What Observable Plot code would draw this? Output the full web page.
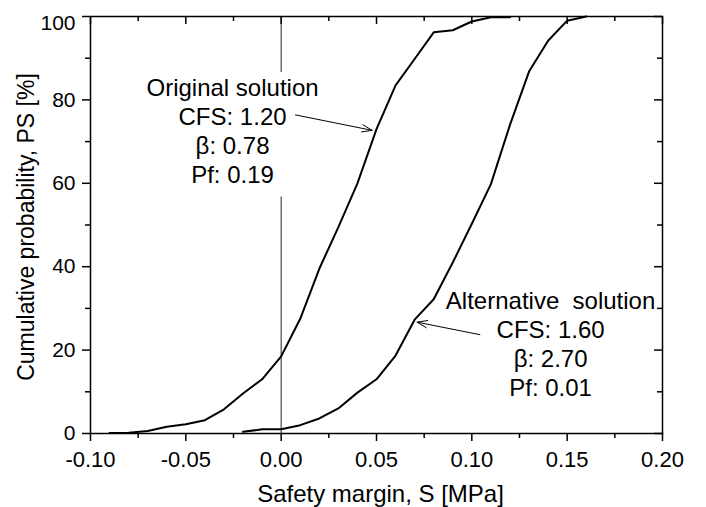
<!DOCTYPE html>
<html><head><meta charset="utf-8">
<script src="https://cdn.jsdelivr.net/npm/d3@7"></script>
<script src="https://cdn.jsdelivr.net/npm/@observablehq/plot@0.6"></script>
<style>body{margin:0;background:#fff} svg{display:block}</style>
</head><body><div id="chart"></div>
<script>
// ---- data ----
const originalS = [-0.09,-0.08,-0.07,-0.06,-0.05,-0.04,-0.03,-0.02,-0.01,0.00,0.01,0.02,0.03,0.04,0.05,0.06,0.07,0.08,0.09,0.10,0.11,0.12];
const originalP = [0.1,0.2,0.6,1.6,2.2,3.2,5.8,9.6,13.0,18.5,27.5,39.5,49.5,60.0,73.0,83.5,89.8,96.2,96.7,98.8,99.8,99.8];
const alternativeS = [-0.02,-0.01,0.00,0.01,0.02,0.03,0.04,0.05,0.06,0.07,0.08,0.09,0.10,0.11,0.12,0.13,0.14,0.15,0.16];
const alternativeP = [0.4,1.0,1.0,2.0,3.6,6.0,9.8,13.0,18.7,27.3,32.2,41.0,50.3,59.8,74.0,86.8,94.2,99.0,100.0];
const xMajorTicks = [-0.10,-0.05,0.00,0.05,0.10,0.15,0.20];
const xMinorTicks = [-0.075,-0.025,0.025,0.075,0.125,0.175];
const yMajorTicks = [0,20,40,60,80,100];
const yMinorTicks = [10,30,50,70,90];
const xLabel = "Safety margin, S [MPa]";
const yLabel = "Cumulative probability, PS [%]";
const originalNote = ["Original solution","CFS: 1.20","\u03b2: 0.78","Pf: 0.19"];
const alternativeNote = ["Alternative\u00a0 solution","CFS: 1.60","\u03b2: 2.70","Pf: 0.01"];

// ---- layout (annotation anchors & arrows in data units) ----
const noteLayout = [
  {text: originalNote.join("\n"), x: -0.0255, y: 60.0, lh: 1.217},
  {text: alternativeNote.join("\n"), x: 0.1413, y: 9.1, lh: 1.20}
];
const arrowLayout = [
  {x1: 0.0075, y1: 76.4, x2: 0.0477, y2: 72.7},
  {x1: 0.1042, y1: 23.7, x2: 0.0713, y2: 26.7}
];
const zeroLineSegments = [{y1: 0, y2: 56.7}, {y1: 86.6, y2: 100}];

const original = originalS.map((s, i) => ({s, p: originalP[i]}));
const alternative = alternativeS.map((s, i) => ({s, p: alternativeP[i]}));

const W = 706, H = 507, mL = 90, mR = 44, mT = 16, mB = 74;
const fw = W - mL - mR, fh = H - mT - mB;
const font = "'Liberation Sans', Arial, sans-serif";
const blank = () => "";

const chart = Plot.plot({
  width: W, height: H,
  marginLeft: mL, marginRight: mR, marginTop: mT, marginBottom: mB,
  style: {fontFamily: font, fontSize: "21px", color: "#000", background: "#fff"},
  x: {domain: [-0.10, 0.20], label: null},
  y: {domain: [0, 100], label: null},
  marks: [
    // zero line (broken behind annotation)
    Plot.ruleX(zeroLineSegments, {x: () => 0, y1: "y1", y2: "y2", stroke: "#222", strokeWidth: 1}),
    // bottom axis
    Plot.axisX(xMajorTicks, {anchor: "bottom", tickSize: 8, tickPadding: 10, strokeWidth: 1.5, fontSize: 22, tickFormat: d => d.toFixed(2), label: null}),
    Plot.axisX(xMinorTicks, {anchor: "bottom", tickSize: 5, strokeWidth: 1.5, tickFormat: blank, label: null}),
    // top inward ticks
    Plot.ruleX(xMajorTicks, {insetBottom: fh - 8, strokeWidth: 1.5}),
    Plot.ruleX(xMinorTicks, {insetBottom: fh - 5, strokeWidth: 1.5}),
    // left axis
    Plot.axisY(yMajorTicks.filter(d => d < 100), {anchor: "left", tickSize: 8, tickPadding: 7, strokeWidth: 1.5, fontSize: 21, label: null}),
    Plot.axisY([100], {anchor: "left", tickSize: 8, strokeWidth: 1.5, tickFormat: blank, label: null}),
    Plot.axisY([100], {anchor: "left", tickSize: 0, tickPadding: 15, dy: 7, fontSize: 21, label: null}),
    Plot.axisY(yMinorTicks, {anchor: "left", tickSize: 5, strokeWidth: 1.5, tickFormat: blank, label: null}),
    // right inward ticks
    Plot.ruleY(yMajorTicks, {insetLeft: fw - 8, strokeWidth: 1.5}),
    Plot.ruleY(yMinorTicks, {insetLeft: fw - 5, strokeWidth: 1.5}),
    Plot.frame({strokeWidth: 1.5}),
    // curves
    Plot.line(original, {x: "s", y: "p", stroke: "#000", strokeWidth: 2}),
    Plot.line(alternative, {x: "s", y: "p", stroke: "#000", strokeWidth: 2}),
    // annotations
    Plot.text(noteLayout.slice(0,1), {x: "x", y: "y", text: "text", lineAnchor: "bottom", lineHeight: noteLayout[0].lh, fontSize: 24, textAnchor: "middle", fill: "#000"}),
    Plot.text(noteLayout.slice(1), {x: "x", y: "y", text: "text", lineAnchor: "bottom", lineHeight: noteLayout[1].lh, fontSize: 24, textAnchor: "middle", fill: "#000"}),
    Plot.arrow(arrowLayout, {x1: "x1", y1: "y1", x2: "x2", y2: "y2", headLength: 16, headAngle: 40, strokeWidth: 1, stroke: "#000"}),
    // axis titles
    Plot.text([xLabel], {frameAnchor: "bottom", dy: 68, dx: 4, lineAnchor: "bottom", textAnchor: "middle", fontSize: 24, fill: "#000"}),
    Plot.text([yLabel], {frameAnchor: "left", dx: -56.5, dy: 2, rotate: -90, lineAnchor: "bottom", textAnchor: "middle", fontSize: 23, fill: "#000"})
  ]
});
document.getElementById("chart").appendChild(chart);
</script>
</body></html>
